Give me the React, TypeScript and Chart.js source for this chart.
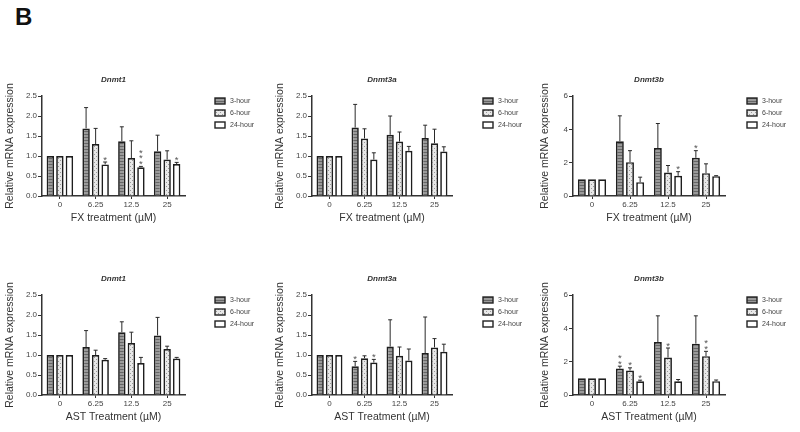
import React, { useEffect, useRef } from 'react';
import { Chart, registerables } from 'chart.js';

Chart.register(...registerables);

const FONT = '"Liberation Sans", Arial, sans-serif';

const categories = ['0', '6.25', '12.5', '25'];
const seriesNames = ['3-hour', '6-hour', '24-hour'];
const yTitle = 'Relative mRNA expression';

// FX treatment – Dnmt1
const fxDnmt1_3h = [1, 1.69, 1.37, 1.12];
const fxDnmt1_6h = [1, 1.30, 0.95, 0.91];
const fxDnmt1_24h = [1, 0.79, 0.72, 0.80];
const fxDnmt1_3hErr = [0, 0.52, 0.36, 0.40];
const fxDnmt1_6hErr = [0, 0.39, 0.43, 0.22];
const fxDnmt1_24hErr = [0, 0.06, 0.02, 0.04];
const fxDnmt1_stars3h = [0, 0, 0, 0];
const fxDnmt1_stars6h = [0, 0, 0, 0];
const fxDnmt1_stars24h = [0, 1, 3, 1];

// FX treatment – Dnmt3a
const fxDnmt3a_3h = [1, 1.71, 1.53, 1.45];
const fxDnmt3a_6h = [1, 1.44, 1.36, 1.32];
const fxDnmt3a_24h = [1, 0.91, 1.13, 1.11];
const fxDnmt3a_3hErr = [0, 0.58, 0.47, 0.32];
const fxDnmt3a_6hErr = [0, 0.24, 0.24, 0.35];
const fxDnmt3a_24hErr = [0, 0.17, 0.11, 0.12];
const fxDnmt3a_stars3h = [0, 0, 0, 0];
const fxDnmt3a_stars6h = [0, 0, 0, 0];
const fxDnmt3a_stars24h = [0, 0, 0, 0];

// FX treatment – Dnmt3b
const fxDnmt3b_3h = [1, 3.28, 2.88, 2.29];
const fxDnmt3b_6h = [1, 2.03, 1.41, 1.37];
const fxDnmt3b_24h = [1, 0.83, 1.21, 1.19];
const fxDnmt3b_3hErr = [0, 1.53, 1.47, 0.43];
const fxDnmt3b_6hErr = [0, 0.69, 0.42, 0.56];
const fxDnmt3b_24hErr = [0, 0.30, 0.25, 0.03];
const fxDnmt3b_stars3h = [0, 0, 0, 1];
const fxDnmt3b_stars6h = [0, 0, 0, 0];
const fxDnmt3b_stars24h = [0, 0, 1, 0];

// AST treatment – Dnmt1
const astDnmt1_3h = [1, 1.20, 1.57, 1.49];
const astDnmt1_6h = [1, 1.00, 1.30, 1.15];
const astDnmt1_24h = [1, 0.88, 0.80, 0.91];
const astDnmt1_3hErr = [0, 0.41, 0.26, 0.45];
const astDnmt1_6hErr = [0, 0.12, 0.27, 0.07];
const astDnmt1_24hErr = [0, 0.03, 0.14, 0.03];
const astDnmt1_stars3h = [0, 0, 0, 0];
const astDnmt1_stars6h = [0, 0, 0, 0];
const astDnmt1_stars24h = [0, 0, 0, 0];

// AST treatment – Dnmt3a
const astDnmt3a_3h = [1, 0.72, 1.21, 1.05];
const astDnmt3a_6h = [1, 0.92, 0.98, 1.19];
const astDnmt3a_24h = [1, 0.81, 0.86, 1.08];
const astDnmt3a_3hErr = [0, 0.12, 0.67, 0.90];
const astDnmt3a_6hErr = [0, 0.06, 0.22, 0.22];
const astDnmt3a_24hErr = [0, 0.08, 0.29, 0.19];
const astDnmt3a_stars3h = [0, 1, 0, 0];
const astDnmt3a_stars6h = [0, 0, 0, 0];
const astDnmt3a_stars24h = [0, 1, 0, 0];

// AST treatment – Dnmt3b
const astDnmt3b_3h = [1, 1.59, 3.18, 3.08];
const astDnmt3b_6h = [1, 1.47, 2.25, 2.33];
const astDnmt3b_24h = [1, 0.82, 0.82, 0.83];
const astDnmt3b_3hErr = [0, 0.14, 1.57, 1.67];
const astDnmt3b_6hErr = [0, 0.16, 0.57, 0.29];
const astDnmt3b_24hErr = [0, 0.07, 0.11, 0.07];
const astDnmt3b_stars3h = [0, 2, 0, 0];
const astDnmt3b_stars6h = [0, 1, 1, 2];
const astDnmt3b_stars24h = [0, 1, 0, 0];

type PanelSpec = {
  title: string;
  xTitle: string;
  yMax: number;
  yStep: number;
  decimals: number;
  values: number[][];
  errors: number[][];
  stars: number[][];
  left: number;
  top: number;
  yWidth: number;
  chartRight: number;
  legendGap: number;
};

const W = 265;
const H = 170;

const panels: PanelSpec[] = [
  {
    title: 'Dnmt1', xTitle: 'FX treatment (\u00B5M)', yMax: 2.5, yStep: 0.5, decimals: 1,
    values: [fxDnmt1_3h, fxDnmt1_6h, fxDnmt1_24h],
    errors: [fxDnmt1_3hErr, fxDnmt1_6hErr, fxDnmt1_24hErr],
    stars: [fxDnmt1_stars3h, fxDnmt1_stars6h, fxDnmt1_stars24h],
    left: 0, top: 68, yWidth: 42, chartRight: 185, legendGap: 30,
  },
  {
    title: 'Dnmt3a', xTitle: 'FX treatment (\u00B5M)', yMax: 2.5, yStep: 0.5, decimals: 1,
    values: [fxDnmt3a_3h, fxDnmt3a_6h, fxDnmt3a_24h],
    errors: [fxDnmt3a_3hErr, fxDnmt3a_6hErr, fxDnmt3a_24hErr],
    stars: [fxDnmt3a_stars3h, fxDnmt3a_stars6h, fxDnmt3a_stars24h],
    left: 270, top: 68, yWidth: 42, chartRight: 182, legendGap: 31,
  },
  {
    title: 'Dnmt3b', xTitle: 'FX treatment (\u00B5M)', yMax: 6, yStep: 2, decimals: 0,
    values: [fxDnmt3b_3h, fxDnmt3b_6h, fxDnmt3b_24h],
    errors: [fxDnmt3b_3hErr, fxDnmt3b_6hErr, fxDnmt3b_24hErr],
    stars: [fxDnmt3b_stars3h, fxDnmt3b_stars6h, fxDnmt3b_stars24h],
    left: 535, top: 68, yWidth: 38, chartRight: 190, legendGap: 22,
  },
  {
    title: 'Dnmt1', xTitle: 'AST Treatment (\u00B5M)', yMax: 2.5, yStep: 0.5, decimals: 1,
    values: [astDnmt1_3h, astDnmt1_6h, astDnmt1_24h],
    errors: [astDnmt1_3hErr, astDnmt1_6hErr, astDnmt1_24hErr],
    stars: [astDnmt1_stars3h, astDnmt1_stars6h, astDnmt1_stars24h],
    left: 0, top: 267, yWidth: 42, chartRight: 185, legendGap: 30,
  },
  {
    title: 'Dnmt3a', xTitle: 'AST Treatment (\u00B5M)', yMax: 2.5, yStep: 0.5, decimals: 1,
    values: [astDnmt3a_3h, astDnmt3a_6h, astDnmt3a_24h],
    errors: [astDnmt3a_3hErr, astDnmt3a_6hErr, astDnmt3a_24hErr],
    stars: [astDnmt3a_stars3h, astDnmt3a_stars6h, astDnmt3a_stars24h],
    left: 270, top: 267, yWidth: 42, chartRight: 182, legendGap: 31,
  },
  {
    title: 'Dnmt3b', xTitle: 'AST Treatment (\u00B5M)', yMax: 6, yStep: 2, decimals: 0,
    values: [astDnmt3b_3h, astDnmt3b_6h, astDnmt3b_24h],
    errors: [astDnmt3b_3hErr, astDnmt3b_6hErr, astDnmt3b_24hErr],
    stars: [astDnmt3b_stars3h, astDnmt3b_stars6h, astDnmt3b_stars24h],
    left: 535, top: 267, yWidth: 38, chartRight: 190, legendGap: 22,
  },
];

function makePattern(kind: 'stripe' | 'dots'): CanvasPattern | string {
  const c = document.createElement('canvas');
  const g = c.getContext('2d');
  if (!g) return kind === 'stripe' ? '#999' : '#ddd';
  if (kind === 'stripe') {
    c.width = 4; c.height = 3;
    g.fillStyle = '#9a9a9a';
    g.fillRect(0, 0, 4, 3);
    g.fillStyle = '#666666';
    g.fillRect(0, 0, 4, 1);
  } else {
    c.width = 4; c.height = 4;
    g.fillStyle = '#e8e8e8';
    g.fillRect(0, 0, 4, 4);
    g.fillStyle = '#9a9a9a';
    g.fillRect(0, 0, 1, 1);
    g.fillRect(2, 2, 1, 1);
  }
  return g.createPattern(c, 'repeat') || '#ccc';
}

function Panel({ spec }: { spec: PanelSpec }) {
  const ref = useRef<HTMLCanvasElement>(null);
  useEffect(() => {
    const canvas = ref.current;
    if (!canvas) return;
    const fills = [makePattern('stripe'), makePattern('dots'), '#ffffff'];

    const extras = {
      id: 'panelExtras',
      afterDatasetsDraw(chart: any) {
        const ctx = chart.ctx as CanvasRenderingContext2D;
        const yScale = chart.scales.y;
        ctx.save();
        spec.values.forEach((series, si) => {
          const meta = chart.getDatasetMeta(si);
          series.forEach((v, ci) => {
            const el = meta.data[ci] as any;
            if (!el) return;
            const err = spec.errors[si][ci];
            const yTop = yScale.getPixelForValue(v);
            const yErr = yScale.getPixelForValue(v + err);
            if (err > 0) {
              ctx.strokeStyle = '#2a2a2a';
              ctx.lineWidth = 1;
              ctx.beginPath();
              ctx.moveTo(el.x, yTop);
              ctx.lineTo(el.x, yErr);
              ctx.moveTo(el.x - 2, yErr);
              ctx.lineTo(el.x + 2, yErr);
              ctx.stroke();
            }
            const n = spec.stars[si][ci];
            if (n > 0) {
              ctx.fillStyle = '#555';
              ctx.font = `9.5px ${FONT}`;
              ctx.textAlign = 'center';
              ctx.textBaseline = 'alphabetic';
              const base = Math.min(yErr, yTop) + 0.5;
              for (let k = 0; k < n; k++) {
                ctx.fillText('*', el.x, base - k * 5.5);
              }
            }
          });
        });
        ctx.restore();
      },
      afterDraw(chart: any) {
        const ctx = chart.ctx as CanvasRenderingContext2D;
        const ca = chart.chartArea;
        ctx.save();
        ctx.fillStyle = '#333';
        ctx.font = `italic bold 8px ${FONT}`;
        ctx.textAlign = 'center';
        ctx.textBaseline = 'middle';
        ctx.fillText(spec.title, (ca.left + ca.right) / 2, ca.top - 16);
        const lx = ca.right + spec.legendGap;
        seriesNames.forEach((name, i) => {
          const by = ca.top + 2 + i * 12;
          ctx.fillStyle = fills[i] as any;
          ctx.fillRect(lx, by, 10, 6);
          ctx.strokeStyle = '#222';
          ctx.lineWidth = 1.4;
          ctx.strokeRect(lx, by, 10, 6);
          ctx.fillStyle = '#444';
          ctx.font = `7px ${FONT}`;
          ctx.textAlign = 'left';
          ctx.textBaseline = 'middle';
          ctx.fillText(name, lx + 15, by + 3);
        });
        ctx.restore();
      },
    };

    const chart = new Chart(canvas, {
      type: 'bar',
      data: {
        labels: categories,
        datasets: spec.values.map((v, i) => ({
          label: seriesNames[i],
          data: v,
          backgroundColor: fills[i] as any,
          borderColor: '#1e1e1e',
          borderWidth: 1.7,
          categoryPercentage: 0.8,
          barPercentage: 0.78,
        })),
      },
      options: {
        responsive: false,
        maintainAspectRatio: false,
        animation: false,
        devicePixelRatio: 1,
        layout: { padding: { left: 0, top: 28, right: W - spec.chartRight, bottom: 10 } },
        plugins: {
          legend: { display: false },
          title: { display: false },
          tooltip: { enabled: false },
        },
        scales: {
          x: {
            grid: { display: true, drawOnChartArea: false, drawTicks: true, tickLength: 3, offset: false, color: '#333' },
            border: { display: true, color: '#333', width: 1.5 },
            ticks: { font: { family: FONT, size: 8 }, color: '#444', padding: 1, maxRotation: 0 },
            title: { display: true, text: spec.xTitle, font: { family: FONT, size: 10.5 }, color: '#333', padding: 4 },
            afterFit: (s: any) => { s.height = 32; },
          },
          y: {
            min: 0,
            max: spec.yMax,
            ticks: {
              stepSize: spec.yStep,
              callback: (val: any) => Number(val).toFixed(spec.decimals),
              font: { family: FONT, size: 8 },
              color: '#444',
              padding: 1,
            },
            grid: { display: true, drawOnChartArea: false, drawTicks: true, tickLength: 4, color: '#333' },
            border: { display: true, color: '#333', width: 1.5 },
            title: { display: true, text: yTitle, font: { family: FONT, size: 10.5 }, color: '#333', padding: 4 },
            afterFit: (s: any) => { s.width = spec.yWidth; },
          },
        },
      } as any,
      plugins: [extras as any],
    });
    return () => chart.destroy();
  }, [spec]);
  return (
    <canvas
      ref={ref}
      width={W}
      height={H}
      style={{ position: 'absolute', left: spec.left, top: spec.top, width: W, height: H }}
    />
  );
}

export default function App() {
  return (
    <div style={{ position: 'fixed', left: 0, top: 0, width: 800, height: 432, background: '#fff', overflow: 'hidden' }}>
      <div
        style={{
          position: 'absolute', left: 15, top: 5, fontFamily: FONT, fontWeight: 'bold',
          fontSize: 24, lineHeight: 1, color: '#111',
        }}
      >
        B
      </div>
      {panels.map((p, i) => (
        <Panel key={i} spec={p} />
      ))}
    </div>
  );
}
